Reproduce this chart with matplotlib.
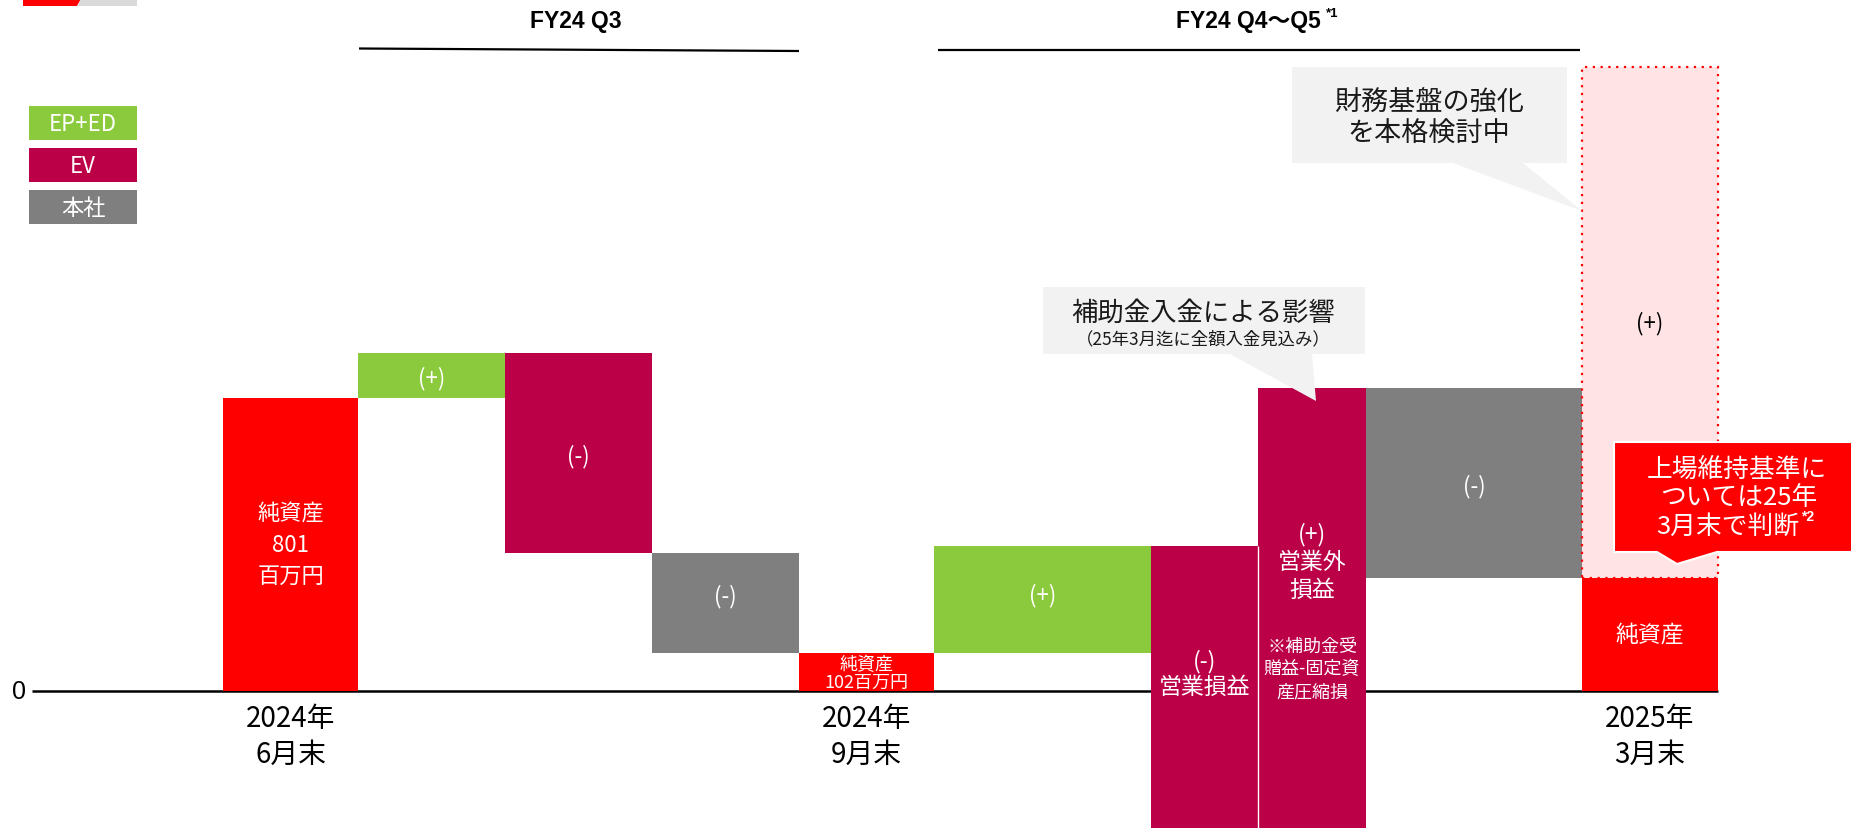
import numpy as np
import matplotlib.pyplot as plt
from matplotlib.patches import Polygon, Rectangle

plt.rcParams['font.family'] = ['Noto Sans CJK JP', 'DejaVu Sans']

# net assets, million yen
net_jun = 801
q3_steps = [123, -546, -276]            # EP+ED, EV, 本社
q3_segments = ['EP+ED', 'EV', '本社']
q4_steps = [295, -790, 1220, -520]      # EP+ED, EV 営業損益, EV 営業外損益, 本社
q4_segments = ['EP+ED', 'EV', 'EV', '本社']
upside = 1400                            # 財務基盤の強化 (+)

legend_labels = ['EP+ED', 'EV', '本社']
period_labels = [['2024年', '6月末'], ['2024年', '9月末'], ['2025年', '3月末']]
period_titles = ['FY24 Q3', 'FY24 Q4～Q5']

colors = {'total': '#FF0000', 'EP+ED': '#8BCA3D', 'EV': '#BC0048', '本社': '#7F7F7F'}

# bar edges along the x axis (layout units = pixels)
edges = np.array([223, 358, 505, 652, 799, 934, 1151, 1258, 1366, 1582, 1718])
W, H = 1851, 829
y_lo, y_hi = -376, 1893

# waterfall geometry
def steps_to_bars(start, steps):
    levels = start + np.cumsum(steps)
    begins = np.concatenate([[start], levels[:-1]])
    return np.minimum(begins, levels), np.abs(steps), levels

q3_bot, q3_h, q3_lv = steps_to_bars(net_jun, q3_steps)
net_sep = q3_lv[-1]
q4_bot, q4_h, q4_lv = steps_to_bars(net_sep, q4_steps)
net_mar = q4_lv[-1]

bottoms = np.concatenate([[0], q3_bot, [0], q4_bot, [0]])
heights = np.concatenate([[net_jun], q3_h, [net_sep], q4_h, [net_mar]])
bar_colors = ([colors['total']] + [colors[s] for s in q3_segments] + [colors['total']]
              + [colors[s] for s in q4_segments] + [colors['total']])
lefts = edges[:-1]
widths = np.diff(edges)
centers = lefts + widths / 2

fig = plt.figure(figsize=(W / 100, H / 100), dpi=100)
ax = fig.add_axes([0, 0, 1, 1])
ax.set_xlim(0, W)
ax.set_ylim(y_lo, y_hi)
ax.axis('off')

ax.hlines(0, 32, edges[-1], color='black', lw=1.8, zorder=1)
ax.bar(lefts, heights, width=widths, bottom=bottoms, align='edge',
       color=bar_colors, linewidth=0, zorder=2)
# seam between the two EV bars
ax.vlines(edges[7], y_lo, min(q4_lv[0], q4_lv[2]), color='white', lw=1, zorder=3)
# upside box above the March bar
ax.bar(lefts[-1], upside, width=widths[-1], bottom=net_mar, align='edge',
       facecolor='#FFE3E5', edgecolor='#FF0000', linewidth=1.6,
       linestyle=(0, (1, 2.5)), zorder=2)


def stack_text(a, x, y, lines, offsets, **kw):
    for s, off in zip(lines, offsets):
        a.annotate(s, (x, y), xytext=(0, off), textcoords='offset pixels',
                   ha='center', va='center', zorder=5, **kw)


white = dict(color='white')
mid = bottoms + heights / 2
sign = 16

stack_text(ax, centers[0], mid[0], ['純資産', str(net_jun), '百万円'], [31, 0, -31], fontsize=16, **white)
stack_text(ax, centers[1], mid[1], ['(+)'], [-2], fontsize=sign, **white)
stack_text(ax, centers[2], mid[2], ['(-)'], [-3], fontsize=sign, **white)
stack_text(ax, centers[3], mid[3], ['(-)'], [7], fontsize=sign, **white)
stack_text(ax, centers[4], mid[4], ['純資産', f'{net_sep}百万円'], [8, -10], fontsize=13, **white)
stack_text(ax, centers[5], mid[5], ['(+)'], [5], fontsize=sign, **white)
top6 = q4_lv[0]
stack_text(ax, centers[6], top6, ['(-)', '営業損益'], [-115, -141], fontsize=16.5, **white)
top7 = q4_lv[2]
stack_text(ax, centers[7], top7, ['(+)', '営業外', '損益'], [-145, -173, -201], fontsize=16.5, **white)
stack_text(ax, centers[7], top7, ['※補助金受', '贈益-固定資', '産圧縮損'], [-257, -280, -303],
           fontsize=13, **white)
stack_text(ax, centers[8], mid[8], ['(-)'], [-2], fontsize=sign, **white)
stack_text(ax, centers[9], mid[9], ['純資産'], [0], fontsize=16.5, **white)
stack_text(ax, centers[9], net_mar + upside / 2, ['(+)'], [0], fontsize=sign, color='black')

# period labels under the net-asset bars
for xc, lines in zip(centers[[0, 4, 9]], period_labels):
    stack_text(ax, xc, 0, lines, [-27, -63], fontsize=20, color='black')
ax.annotate('0', (19, 0), ha='center', va='center', fontsize=18,
            family=['Liberation Sans', 'DejaVu Sans'])

# overlay in pixel coordinates for headers, legend and callouts
ov = fig.add_axes([0, 0, 1, 1])
ov.set_xlim(0, W)
ov.set_ylim(H, 0)
ov.axis('off')
ov.patch.set_alpha(0)

# corner mark
ov.add_patch(Polygon([(23, 0), (81, 0), (77, 7), (23, 7)], closed=True, color='#FF0000', lw=0))
ov.add_patch(Polygon([(81, 0), (137, 0), (137, 7), (77, 7)], closed=True, color='#D9D9D9', lw=0))

head = dict(fontsize=16.5, fontweight='bold', family=['Liberation Sans', 'Noto Sans CJK JP'],
            ha='center', va='center')
ov.text(576, 21, period_titles[0], **head)
ov.text(1248, 21, period_titles[1], **head)
ov.text(1326, 14, '*1', fontsize=9.5, fontweight='bold', family=['Liberation Sans'],
        ha='left', va='center')
ov.plot([359, 799], [49.5, 52], color='black', lw=1.6, solid_capstyle='butt')
ov.plot([938, 1580], [51, 51], color='black', lw=1.6, solid_capstyle='butt')

# legend
for i, name in enumerate(legend_labels):
    y0 = 107 + i * 42
    ov.add_patch(Rectangle((29, y0), 108, 34, color=colors[name], lw=0))
    ov.text(83, y0 + 17, name, color='white', fontsize=16, ha='center', va='center')

# callouts
ov.add_patch(Polygon([(1043, 288), (1365, 288), (1365, 355), (1312, 355), (1316, 402),
                      (1230, 355), (1043, 355)], closed=True, color='#F2F2F2', lw=0, zorder=4))
ov.text(1203, 313, '補助金入金による影響', fontsize=19, color='#1A1A1A', ha='center', va='center', zorder=5)
ov.text(1203, 339, '（25年3月迄に全額入金見込み）', fontsize=12.5, color='#1A1A1A',
        ha='center', va='center', zorder=5)

ov.add_patch(Polygon([(1292, 68), (1567, 68), (1567, 164), (1523, 164), (1582, 212),
                      (1453, 164), (1292, 164)], closed=True, color='#F2F2F2', lw=0, zorder=4))
ov.text(1429, 102, '財務基盤の強化', fontsize=19.5, color='#1A1A1A', ha='center', va='center', zorder=5)
ov.text(1429, 134, 'を本格検討中', fontsize=19.5, color='#1A1A1A', ha='center', va='center', zorder=5)

ov.add_patch(Polygon([(1614, 443), (1860, 443), (1860, 553), (1717, 553), (1677, 565),
                      (1657, 553), (1614, 553)], closed=True, facecolor='#FF0000',
                     edgecolor='white', lw=1.5, zorder=4))
ov.text(1737, 470, '上場維持基準に', fontsize=18.5, color='white', ha='center', va='center', zorder=5)
ov.text(1739, 498, 'ついては25年', fontsize=18.5, color='white', ha='center', va='center', zorder=5)
ov.text(1728, 527, '3月末で判断', fontsize=18.5, color='white', ha='center', va='center', zorder=5)
ov.text(1801, 517, '*2', fontsize=10, fontweight='bold', color='white', family=['Liberation Sans'],
        ha='left', va='center', zorder=5)

fig.savefig('out.png', dpi=100)
